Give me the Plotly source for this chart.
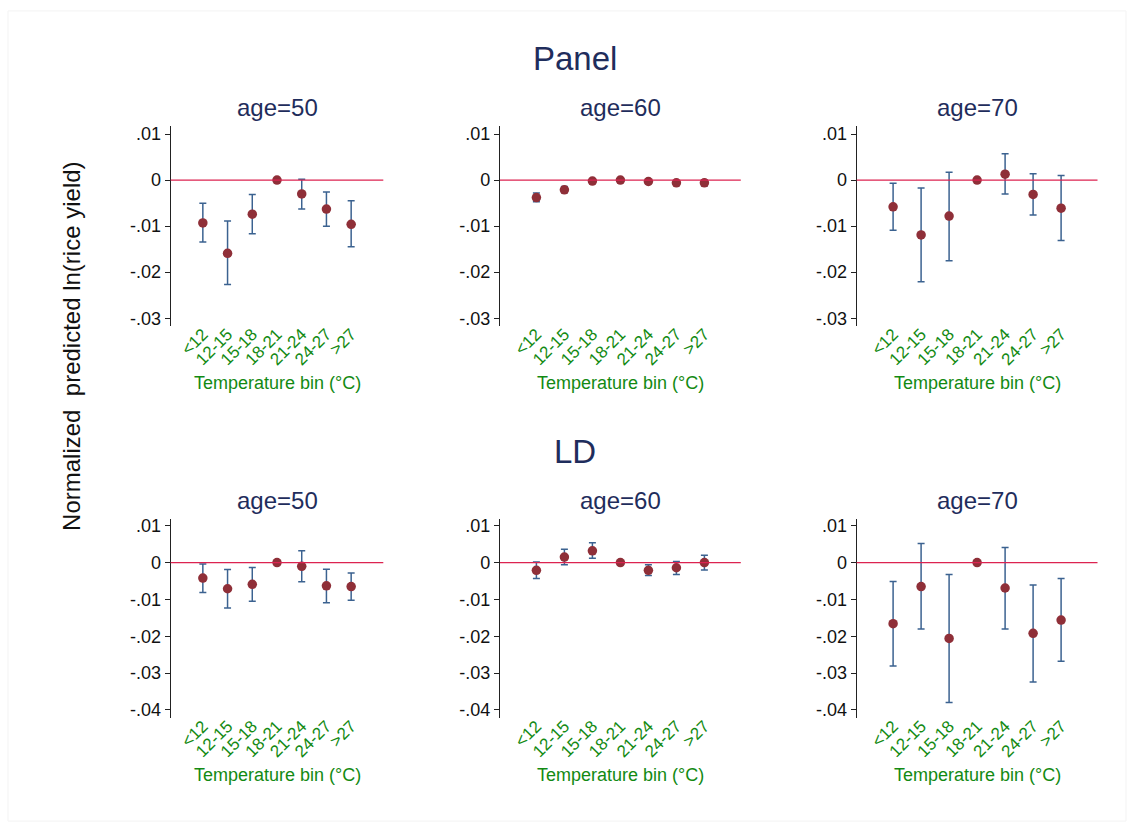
import plotly.graph_objects as go

# Temperature bins (categories on the x axis)
bins = ["<12", "12-15", "15-18", "18-21", "21-24", "24-27", ">27"]

# Panel estimates: point estimates and 95% CI bounds by age
panel_est_50 = [-0.0093, -0.0159, -0.0074, 0.0, -0.0030, -0.0063, -0.0096]
panel_lo_50 = [-0.01345, -0.0227, -0.01165, 0.0, -0.0063, -0.0100, -0.0145]
panel_hi_50 = [-0.0050, -0.0089, -0.0031, 0.0, 0.0002, -0.0026, -0.0045]

panel_est_60 = [-0.0038, -0.0021, -0.0002, 0.0, -0.0003, -0.0006, -0.0006]
panel_lo_60 = [-0.0047, -0.0027, -0.0005, 0.0, -0.0005, -0.0009, -0.0012]
panel_hi_60 = [-0.0028, -0.0014, 0.0001, 0.0, -0.0001, -0.0003, 0.0000]

panel_est_70 = [-0.0058, -0.0119, -0.0078, 0.0, 0.0013, -0.0031, -0.0061]
panel_lo_70 = [-0.0109, -0.0221, -0.0175, 0.0, -0.0030, -0.0076, -0.0131]
panel_hi_70 = [-0.0007, -0.0017, 0.0017, 0.0, 0.0057, 0.0014, 0.0010]

# LD estimates
ld_est_50 = [-0.0042, -0.0071, -0.0059, 0.0, -0.0010, -0.0063, -0.0065]
ld_lo_50 = [-0.0081, -0.0123, -0.0105, 0.0, -0.0052, -0.0109, -0.0102]
ld_hi_50 = [-0.0004, -0.0019, -0.0013, 0.0, 0.0032, -0.0018, -0.0028]

ld_est_60 = [-0.0021, 0.0015, 0.0032, 0.0, -0.0021, -0.0014, 0.0000]
ld_lo_60 = [-0.0043, -0.0006, 0.0012, 0.0, -0.0035, -0.0032, -0.0020]
ld_hi_60 = [0.0002, 0.0036, 0.0054, 0.0, -0.0006, 0.0003, 0.0020]

ld_est_70 = [-0.0166, -0.0065, -0.0206, 0.0, -0.0069, -0.0192, -0.0156]
ld_lo_70 = [-0.0281, -0.0180, -0.0380, 0.0, -0.0180, -0.0324, -0.0268]
ld_hi_70 = [-0.0051, 0.0052, -0.0032, 0.0, 0.0041, -0.0061, -0.0043]

ages = ["age=50", "age=60", "age=70"]
top_ticks = [0.01, 0.0, -0.01, -0.02, -0.03]
top_ticktext = [".01", "0", "-.01", "-.02", "-.03"]
bot_ticks = [0.01, 0.0, -0.01, -0.02, -0.03, -0.04]
bot_ticktext = [".01", "0", "-.01", "-.02", "-.03", "-.04"]

W, H = 1134, 831
FONT = "Liberation Sans, Arial, sans-serif"
NAVY = "#1f2d5c"
GREEN = "#138a13"
MAROON = "#8f2f38"
CI_COL = "#3b6290"
REF_COL = "#dc2350"

# plot-area pixel extents (left, right) for the three columns
cols_px = [(170.7, 383.3), (500.0, 740.8), (856.7, 1097.5)]
# plot-area pixel extents (top, bottom) for the two rows
rows_px = [(124.0, 325.0), (519.3, 719.3)]
row_ranges = [[-0.0317, 0.0117], [-0.0422, 0.0118]]

series = [
    [(panel_est_50, panel_lo_50, panel_hi_50),
     (panel_est_60, panel_lo_60, panel_hi_60),
     (panel_est_70, panel_lo_70, panel_hi_70)],
    [(ld_est_50, ld_lo_50, ld_hi_50),
     (ld_est_60, ld_lo_60, ld_hi_60),
     (ld_est_70, ld_lo_70, ld_hi_70)],
]

xpos = list(range(1, len(bins) + 1))

fig = go.Figure()
layout = {}
annotations = []
shapes = []

k = 0
for r in range(2):
    top, bot = rows_px[r]
    ydom = [1 - bot / H, 1 - top / H]
    for c in range(3):
        k += 1
        sfx = "" if k == 1 else str(k)
        left, right = cols_px[c]
        xdom = [left / W, right / W]
        est, lo, hi = series[r][c]
        plus = [h - e for h, e in zip(hi, est)]
        minus = [e - l for e, l in zip(est, lo)]
        fig.add_trace(go.Scatter(
            x=xpos, y=est, mode="markers",
            marker=dict(color=MAROON, size=9.5),
            error_y=dict(type="data", symmetric=False, array=plus, arrayminus=minus,
                         color=CI_COL, thickness=1.5, width=3.5),
            xaxis="x" + sfx, yaxis="y" + sfx, showlegend=False,
        ))
        ticks = top_ticks if r == 0 else bot_ticks
        ttext = top_ticktext if r == 0 else bot_ticktext
        layout["xaxis" + sfx] = dict(
            domain=xdom, anchor="y" + sfx, range=[-0.3, 8.3],
            tickvals=xpos, ticktext=bins, tickangle=-45,
            tickfont=dict(family=FONT, size=17, color=GREEN),
            ticklabelstandoff=-6,
            showline=False, showgrid=False, zeroline=False, ticks="",
        )
        layout["yaxis" + sfx] = dict(
            domain=ydom, anchor="x" + sfx, range=row_ranges[r],
            tickvals=ticks, ticktext=ttext,
            tickfont=dict(family=FONT, size=18, color="#111111"),
            showline=True, linecolor="#222222", linewidth=1.3,
            ticks="outside", ticklen=5, tickcolor="#222222", tickwidth=1.2,
            showgrid=False, zeroline=False,
        )
        # reference line at zero across the plot area
        shapes.append(dict(type="line", xref="x" + sfx + " domain", yref="y" + sfx,
                           x0=0, x1=1, y0=0, y1=0,
                           line=dict(color=REF_COL, width=1.3)))
        cx = (left + right) / 2 / W
        annotations.append(dict(
            text=ages[c], x=cx, y=1 - (top - 18.5) / H, xref="paper", yref="paper",
            xanchor="center", yanchor="middle", showarrow=False,
            font=dict(family=FONT, size=24, color=NAVY)))
        annotations.append(dict(
            text="Temperature bin (°C)", x=cx, y=1 - (bot + 57) / H,
            xref="paper", yref="paper", xanchor="center", yanchor="middle",
            showarrow=False, font=dict(family=FONT, size=18, color=GREEN)))

# row titles
annotations.append(dict(text="Panel", x=575 / W, y=1 - 56 / H, xref="paper", yref="paper",
                        xanchor="center", yanchor="middle", showarrow=False,
                        font=dict(family=FONT, size=33, color=NAVY)))
annotations.append(dict(text="LD", x=575 / W, y=1 - 451 / H, xref="paper", yref="paper",
                        xanchor="center", yanchor="middle", showarrow=False,
                        font=dict(family=FONT, size=33, color=NAVY)))
# shared y title
annotations.append(dict(text="Normalized  predicted ln(rice yield)", x=72 / W, y=1 - 346 / H,
                        xref="paper", yref="paper", xanchor="center", yanchor="middle",
                        textangle=-90, showarrow=False,
                        font=dict(family=FONT, size=24, color="#111111")))

# faint outer frame
shapes.append(dict(type="rect", xref="paper", yref="paper",
                   x0=8 / W, x1=1126 / W, y0=1 - 823 / H, y1=1 - 8 / H,
                   line=dict(color="#f3f3f3", width=1), fillcolor="rgba(0,0,0,0)",
                   layer="below"))

fig.update_layout(
    width=W, height=H, margin=dict(l=0, r=0, t=0, b=0),
    paper_bgcolor="white", plot_bgcolor="white",
    annotations=annotations, shapes=shapes, **layout,
)

fig.write_html("out.html")
